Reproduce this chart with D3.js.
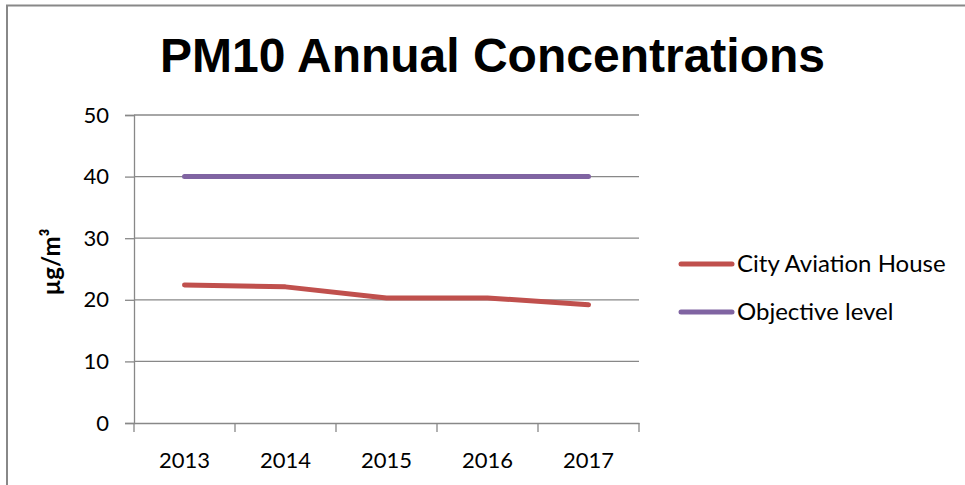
<!DOCTYPE html>
<html><head><meta charset="utf-8">
<script src="https://cdn.jsdelivr.net/npm/d3@7"></script>
<style>body{margin:0;background:#fff}svg{display:block}</style>
</head><body>
<script>
const years = ["2013","2014","2015","2016","2017"];
const cityAviationHouse = [22.4, 22.1, 20.3, 20.3, 19.2];
const objectiveLevel = [40, 40, 40, 40, 40];
const yTicks = [0, 10, 20, 30, 40, 50];
const seriesNames = ["City Aviation House", "Objective level"];
const seriesColors = ["#C0504D", "#8064A2"];

(function(){
const W = 965, H = 485;
const svg = d3.select("body").append("svg").attr("width", W).attr("height", H);

// outer frame
svg.append("path").attr("d", `M7,${H} L7,5.5 L${W},5.5`).attr("fill","none").attr("stroke","#888").attr("stroke-width",2);

const pl = 134, pr = 639, pt = 115, pb = 423;
const x = d3.scaleBand().domain(years).range([pl, pr]);
const y = d3.scaleLinear().domain([0, 50]).range([pb, pt]);

const labelFont = "Lato, 'Open Sans', sans-serif";

// gridlines
svg.append("g").selectAll("line").data(yTicks.filter(d => d > 0)).join("line")
  .attr("x1", pl).attr("x2", pr)
  .attr("y1", d => y(d)).attr("y2", d => y(d))
  .attr("stroke", "#888").attr("stroke-width", 1.3);

// y axis
const yAxis = svg.append("g").attr("transform", `translate(${pl},0)`)
  .call(d3.axisLeft(y).tickValues(yTicks).tickSize(9).tickPadding(16));
yAxis.select(".domain").attr("stroke","#888").attr("stroke-width",1.3);
yAxis.selectAll(".tick line").attr("stroke","#888").attr("stroke-width",1.3);
yAxis.selectAll("text").attr("font-family", labelFont).attr("font-size", 22).attr("fill","#000");

// x axis
const xAxis = svg.append("g").attr("transform", `translate(0,${pb})`)
  .call(d3.axisBottom(x).tickSize(0).tickPadding(29));
xAxis.select(".domain").attr("stroke","#888").attr("stroke-width",1.3);
xAxis.selectAll("text").attr("font-family", labelFont).attr("font-size", 22).attr("fill","#000");
// category boundary ticks
const bounds = years.map(d => x(d)).concat([pr]);
svg.append("g").selectAll("line").data(bounds).join("line")
  .attr("x1", d => d).attr("x2", d => d).attr("y1", pb).attr("y2", pb + 9)
  .attr("stroke","#888").attr("stroke-width",1.3);

// lines
const line = d3.line().x((d,i) => x(years[i]) + x.bandwidth()/2).y(d => y(d));
[cityAviationHouse, objectiveLevel].forEach((s, i) => {
  svg.append("path").datum(s).attr("d", line).attr("fill","none")
    .attr("stroke", seriesColors[i]).attr("stroke-width", 5)
    .attr("stroke-linecap","round").attr("stroke-linejoin","round");
});

// title
svg.append("text").attr("x", 492.5).attr("y", 71.5).attr("text-anchor","middle")
  .attr("font-family","'Liberation Sans', Arial, sans-serif").attr("font-weight","bold")
  .attr("font-size", 48).text("PM10 Annual Concentrations");

// y label
svg.append("text").attr("transform","translate(60,262) rotate(-90)").attr("text-anchor","middle")
  .attr("font-family", labelFont).attr("font-weight","bold").attr("font-size",24)
  .text("µg/m³");

// legend
const legY = [264, 312];
seriesNames.forEach((n, i) => {
  svg.append("line").attr("x1",681).attr("x2",732).attr("y1",legY[i]).attr("y2",legY[i])
    .attr("stroke", seriesColors[i]).attr("stroke-width",5).attr("stroke-linecap","round");
  svg.append("text").attr("x",737).attr("y",legY[i]).attr("dy","0.35em")
    .attr("font-family", labelFont).attr("font-size",24).text(n);
});
})();
</script>
</body></html>
